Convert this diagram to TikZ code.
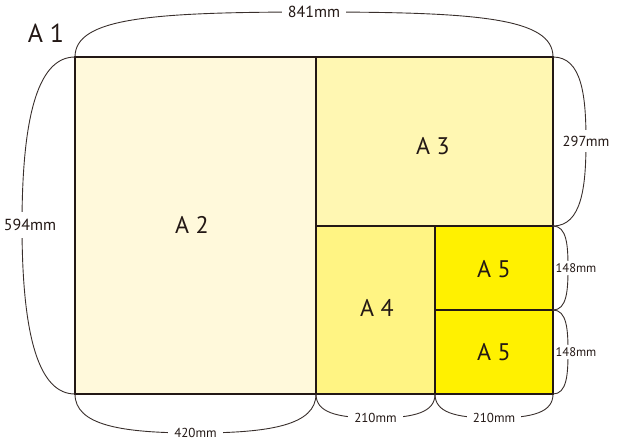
\documentclass[tikz,border=0pt]{standalone}
\usepackage{fontspec}
\setmainfont{PT Sans}
\definecolor{sheetline}{HTML}{231815}
\definecolor{paperA2}{HTML}{FFF9DB}
\definecolor{paperA3}{HTML}{FFF7B2}
\definecolor{paperA4}{HTML}{FFF483}
\definecolor{paperA5}{HTML}{FFF100}

\begin{document}
\begin{tikzpicture}[x=1pt,y=-1pt,
    sheet/.style={draw=sheetline, line width=2pt},
    dimline/.style={draw=sheetline!90, line width=0.9pt},
    dimlabel/.style={fill=white, inner xsep=6pt, inner ysep=2pt, text=sheetline},
    sizelabel/.style={text=sheetline, font=\fontsize{24}{24}\selectfont}]
        \useasboundingbox (0,0) rectangle (617,441);
        % corners of the sheets
        \coordinate (tl) at (75,57);
        \coordinate (tm) at (316,57);
        \coordinate (tr) at (553,57);
        \coordinate (ml) at (316,226);
        \coordinate (mr) at (553,226);
        \coordinate (a5r) at (553,310);
        \coordinate (bl) at (75,394);
        \coordinate (bm) at (316,394);
        \coordinate (a5b) at (435,394);
        \coordinate (br) at (553,394);
        % tips of the braces
        \coordinate (t841) at (314,12);
        \coordinate (t594) at (22,225);
        \coordinate (t297) at (586,141);
        \coordinate (t148a) at (568,268);
        \coordinate (t148b) at (568,352);
        \coordinate (t420) at (195.5,433);
        \coordinate (t210a) at (375.5,418);
        \coordinate (t210b) at (494,418);

        \draw [sheet, fill=paperA2] (tl) rectangle (bm);
        \draw [sheet, fill=paperA3] (tm) rectangle (mr);
        \draw [sheet, fill=paperA4] (ml) rectangle (a5b);
        \draw [sheet, fill=paperA5] (435,226) rectangle (a5r);
        \draw [sheet, fill=paperA5] (435,310) rectangle (br);

        \draw [dimline] (tl) .. controls +(0,-39) and +(-164,0) .. (t841);
        \draw [dimline] (tr) .. controls +(0,-39) and +(164,0) .. (t841);
        \draw [dimline] (tl) .. controls +(-35,0) and +(0,-115) .. (t594);
        \draw [dimline] (bl) .. controls +(-35,0) and +(0,115) .. (t594);
        \draw [dimline] (tr) .. controls +(29,0) and +(0,-45) .. (t297);
        \draw [dimline] (mr) .. controls +(29,0) and +(0,45) .. (t297);
        \draw [dimline] (mr) .. controls +(14,0) and +(0,-22) .. (t148a);
        \draw [dimline] (a5r) .. controls +(14,0) and +(0,22) .. (t148a);
        \draw [dimline] (a5r) .. controls +(14,0) and +(0,-22) .. (t148b);
        \draw [dimline] (br) .. controls +(14,0) and +(0,22) .. (t148b);
        \draw [dimline] (bl) .. controls +(0,31) and +(-75,0) .. (t420);
        \draw [dimline] (bm) .. controls +(0,31) and +(75,0) .. (t420);
        \draw [dimline] (bm) .. controls +(0,18) and +(-40,0) .. (t210a);
        \draw [dimline] (a5b) .. controls +(0,18) and +(40,0) .. (t210a);
        \draw [dimline] (a5b) .. controls +(0,18) and +(-40,0) .. (t210b);
        \draw [dimline] (br) .. controls +(0,18) and +(40,0) .. (t210b);

        \node [dimlabel, font=\fontsize{16}{16}\selectfont] (n841) at (t841) {841mm};
        \node [dimlabel, inner xsep=1pt, inner ysep=7pt, font=\fontsize{16}{16}\selectfont] (n594) at ([xshift=8pt]t594) {594mm};
        \node [dimlabel, inner xsep=1pt, inner ysep=6pt, font=\fontsize{14.5}{14.5}\selectfont] (n297) at (t297) {297mm};
        \node [dimlabel, inner xsep=0.5pt, font=\fontsize{12.5}{12.5}\selectfont] (n148a) at ([xshift=8pt]t148a) {148mm};
        \node [dimlabel, inner xsep=0.5pt, font=\fontsize{12.5}{12.5}\selectfont] (n148b) at ([xshift=8pt]t148b) {148mm};
        \node [dimlabel, font=\fontsize{13}{13}\selectfont] (n420) at (t420) {420mm};
        \node [dimlabel, font=\fontsize{13}{13}\selectfont] (n210a) at (t210a) {210mm};
        \node [dimlabel, font=\fontsize{13}{13}\selectfont] (n210b) at (t210b) {210mm};

        \node [sizelabel, font=\fontsize{26}{26}\selectfont] (a1) at (46,33) {A 1};
        \node [sizelabel] (a2) at (192,225) {A 2};
        \node [sizelabel] (a3) at (433,146) {A 3};
        \node [sizelabel] (a4) at (377,308) {A 4};
        \node [sizelabel] (a5top) at (494,269) {A 5};
        \node [sizelabel] (a5bot) at (494,352) {A 5};
\end{tikzpicture}
\end{document}
